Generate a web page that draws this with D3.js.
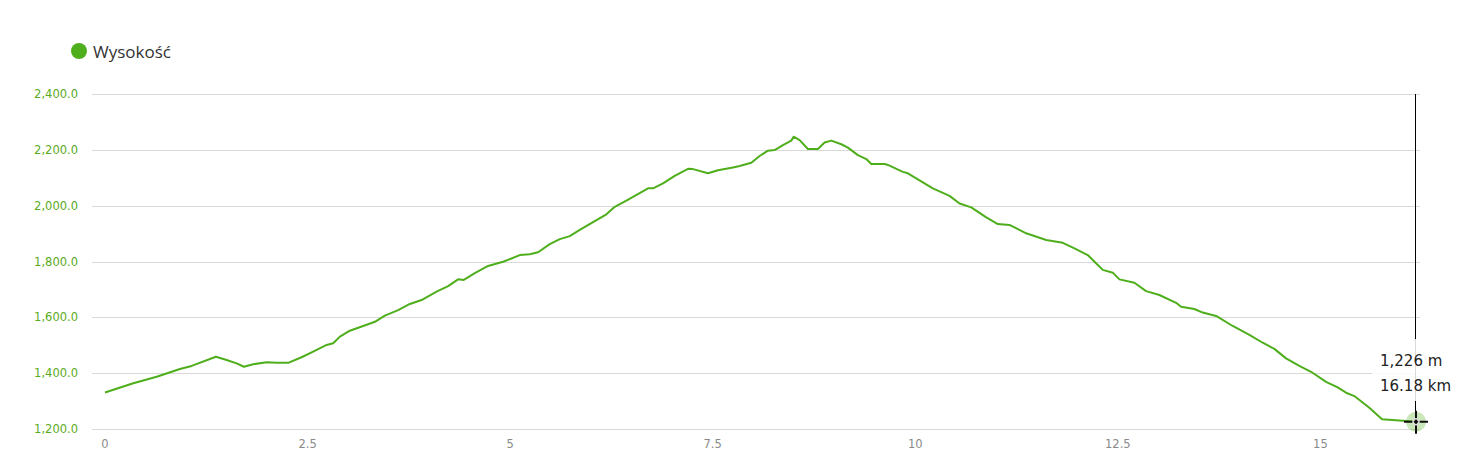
<!DOCTYPE html>
<html>
<head>
<meta charset="utf-8">
<script src="https://cdn.jsdelivr.net/npm/d3@7"></script>
<style>
  html, body { margin: 0; padding: 0; background: #ffffff; }
  svg { display: block; }
</style>
</head>
<body>
<svg id="chart" width="1480" height="473"></svg>
<script>
// ---- data ----
const seriesName = "Wysokość";
const distanceKm = [0, 0.349, 0.638, 0.925, 1.069, 1.369, 1.501, 1.625, 1.715, 1.829, 1.995, 2.118, 2.261, 2.426, 2.569, 2.735, 2.816,
  2.899, 3.022, 3.186, 3.331, 3.454, 3.618, 3.762, 3.907, 4.092, 4.235, 4.358, 4.428, 4.564, 4.728, 4.913, 5.119,
  5.242, 5.345, 5.489, 5.613, 5.736, 5.859, 6.188, 6.291, 6.435, 6.702, 6.764, 6.887, 7.031, 7.195, 7.257, 7.442,
  7.565, 7.750, 7.833, 7.977, 8.079, 8.182, 8.264, 8.367, 8.470, 8.499, 8.573, 8.675, 8.799, 8.881, 8.964, 9.087,
  9.169, 9.292, 9.396, 9.457, 9.622, 9.662, 9.847, 9.909, 10.217, 10.423, 10.547, 10.691, 10.876, 11.019, 11.163,
  11.369, 11.616, 11.821, 11.965, 12.129, 12.212, 12.314, 12.438, 12.520, 12.705, 12.849, 13.013, 13.219, 13.281,
  13.445, 13.548, 13.713, 13.918, 14.124, 14.288, 14.432, 14.576, 14.740, 14.885, 15.070, 15.213, 15.317, 15.419,
  15.604, 15.761, 16.057, 16.18];
const elevationM = [1331, 1364, 1387, 1415, 1426, 1459, 1447, 1435, 1423, 1432, 1439, 1437, 1437, 1457, 1477, 1501, 1507,
  1531, 1552, 1569, 1584, 1606, 1626, 1648, 1662, 1692, 1712, 1736, 1734, 1758, 1784, 1799, 1823,
  1826, 1833, 1862, 1880, 1891, 1913, 1969, 1996, 2018, 2062, 2062, 2080, 2107, 2132, 2131, 2116,
  2127, 2137, 2142, 2154, 2178, 2197, 2199, 2217, 2233, 2247, 2235, 2203, 2203, 2226, 2233, 2220,
  2208, 2181, 2167, 2149, 2149, 2146, 2121, 2116, 2062, 2035, 2008, 1994, 1958, 1934, 1931,
  1901, 1877, 1867, 1847, 1823, 1799, 1770, 1760, 1736, 1724, 1694, 1680, 1652, 1638,
  1630, 1617, 1605, 1569, 1537, 1509, 1487, 1453, 1426, 1405, 1369, 1349, 1330, 1318,
  1276, 1235, 1229, 1226];
const yTicks = [1200, 1400, 1600, 1800, 2000, 2200, 2400];
const xTicks = [0, 2.5, 5, 7.5, 10, 12.5, 15];
const tooltipIndex = distanceKm.length - 1;

// ---- layout ----
const svg = d3.select("#chart");
const green = "#4fae1c";
const x = d3.scaleLinear().domain([0, 16.18]).range([105, 1416]);
const y = d3.scaleLinear().domain([1200, 2400]).range([429, 94]);

// grid
svg.append("g").selectAll("line").data(yTicks).join("line")
  .attr("x1", 92).attr("x2", 1420)
  .attr("y1", d => Math.round(y(d)) + 0.5).attr("y2", d => Math.round(y(d)) + 0.5)
  .attr("stroke", "#d9d9d9").attr("stroke-width", 1);

// y labels
const fmtY = d3.format(",.1f");
svg.append("g").selectAll("text").data(yTicks).join("text")
  .attr("x", 78).attr("y", d => y(d) + 4)
  .attr("text-anchor", "end")
  .attr("font-family", "'DejaVu Sans', Verdana, sans-serif")
  .attr("font-size", 11.5)
  .attr("fill", "#5aab22")
  .text(d => fmtY(d));

// x labels
svg.append("g").selectAll("text").data(xTicks).join("text")
  .attr("x", d => x(d)).attr("y", 448)
  .attr("text-anchor", "middle")
  .attr("font-family", "'DejaVu Sans', Verdana, sans-serif")
  .attr("font-size", 11.5)
  .attr("fill", "#8a8a8a")
  .text(d => String(d));

// line
const pts = distanceKm.map((d, i) => [d, elevationM[i]]);
svg.append("path")
  .datum(pts)
  .attr("fill", "none")
  .attr("stroke", green)
  .attr("stroke-width", 2)
  .attr("stroke-linejoin", "round")
  .attr("d", d3.line().x(d => x(d[0])).y(d => y(d[1])));

// legend
svg.append("circle").attr("cx", 79).attr("cy", 51).attr("r", 8).attr("fill", green);
svg.append("text").attr("x", 93).attr("y", 58)
  .attr("font-family", "'Open Sans', sans-serif")
  .attr("font-size", 17)
  .attr("fill", "#333333")
  .text(seriesName);

// tooltip crosshair
const tx = x(distanceKm[tooltipIndex]);
const ty = y(elevationM[tooltipIndex]);
svg.append("line")
  .attr("x1", Math.round(tx) - 0.5).attr("x2", Math.round(tx) - 0.5)
  .attr("y1", y(2400)).attr("y2", ty)
  .attr("stroke", "#000").attr("stroke-width", 1);

// tooltip box (semi-transparent)
svg.append("rect").attr("x", 1372).attr("y", 339).attr("width", 95).attr("height", 62)
  .attr("fill", "#ffffff").attr("fill-opacity", 0.85);
const fmtM = d3.format(",");
svg.append("text").attr("x", 1380).attr("y", 366)
  .attr("font-family", "'DejaVu Sans', Verdana, sans-serif")
  .attr("font-size", 15).attr("fill", "#222")
  .text(fmtM(elevationM[tooltipIndex]) + " m");
svg.append("text").attr("x", 1380).attr("y", 391)
  .attr("font-family", "'DejaVu Sans', Verdana, sans-serif")
  .attr("font-size", 15).attr("fill", "#222")
  .text(distanceKm[tooltipIndex].toFixed(2) + " km");

// marker
svg.append("circle").attr("cx", tx).attr("cy", ty).attr("r", 10)
  .attr("fill", green).attr("fill-opacity", 0.3);
svg.append("line").attr("x1", tx - 12).attr("x2", tx + 12).attr("y1", ty).attr("y2", ty)
  .attr("stroke", "#111").attr("stroke-width", 2);
svg.append("line").attr("x1", tx).attr("x2", tx).attr("y1", ty - 11).attr("y2", ty + 12)
  .attr("stroke", "#111").attr("stroke-width", 2);
svg.append("circle").attr("cx", tx).attr("cy", ty).attr("r", 3)
  .attr("fill", "none").attr("stroke", "#ddd").attr("stroke-width", 1.5);
</script>
</body>
</html>
